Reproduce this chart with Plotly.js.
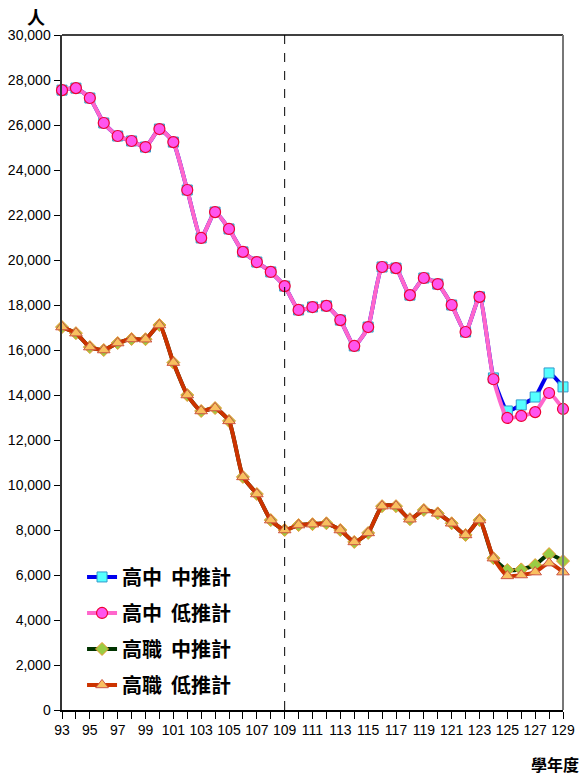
<!DOCTYPE html>
<html><head><meta charset="utf-8">
<script src="https://cdn.plot.ly/plotly-3.0.1.min.js"></script>
<style>body{margin:0;background:#fff}#c{width:587px;height:776px}</style>
</head><body><div id="c"></div>
<script>
const years = [93,94,95,96,97,98,99,100,101,102,103,104,105,106,107,108,109,110,111,112,113,114,115,116,117,118,119,120,121,122,123,124,125,126,127,128,129];
const shMid = [27550,27640,27200,26090,25510,25290,25020,25820,25240,23110,20980,22130,21380,20360,19910,19470,18840,17780,17910,17960,17330,16180,17020,19690,19640,18440,19200,18930,18000,16800,18360,14760,13290,13560,13910,14980,14360];
const shLow = [27550,27640,27200,26090,25510,25290,25020,25820,25240,23110,20980,22130,21380,20360,19910,19470,18840,17780,17910,17960,17330,16180,17020,19690,19640,18440,19200,18930,18000,16800,18360,14700,12980,13070,13240,14090,13380];
const vocMid = [17020,16750,16130,16000,16310,16490,16480,17110,15440,14000,13290,13420,12850,10360,9600,8440,8000,8220,8260,8300,8000,7470,7870,9060,9060,8480,8890,8740,8300,7780,8440,6750,6220,6250,6440,6930,6620];
const vocLow = [17020,16750,16130,16000,16310,16490,16480,17110,15440,14000,13290,13420,12850,10360,9600,8440,8000,8220,8260,8300,8000,7470,7870,9060,9060,8480,8890,8740,8300,7780,8440,6750,5960,6000,6130,6530,6130];
const names = ['高中  中推計','高中  低推計','高職  中推計','高職  低推計'];
const splitYear = 109;

const sm = 0.5;
const traces = [
  {x:years,y:shMid,name:names[0],legendgroup:'a',mode:'lines+markers',cliponaxis:false,
   line:{color:'#0000ee',width:4,shape:'spline',smoothing:sm},
   marker:{symbol:'square',size:10,color:'#55ffff',line:{color:'#3399cc',width:1}}},
  {x:years,y:shLow,name:names[1],legendgroup:'b',mode:'lines+markers',cliponaxis:false,
   line:{color:'#ff66cc',width:4,shape:'spline',smoothing:sm},
   marker:{symbol:'circle',size:11,color:'#ff55ee',line:{color:'#ee0033',width:1.2}}},
  {x:years,y:vocMid,name:names[2],legendgroup:'c',mode:'lines+markers',cliponaxis:false,
   line:{color:'#003300',width:4,shape:'spline',smoothing:sm},
   marker:{symbol:'diamond',size:10,color:'#99cc44',line:{color:'#ee9933',width:1}}},
  {x:years,y:vocLow,name:names[3],legendgroup:'d',mode:'lines+markers',cliponaxis:false,
   line:{color:'#cc3300',width:4,shape:'spline',smoothing:sm},
   marker:{symbol:'triangle-up',size:11,color:'#f8c060',line:{color:'#cc5544',width:1}}}
];

const tickFont = {family:'"Liberation Sans Narrow","Arial Narrow","Liberation Sans",sans-serif',size:14,color:'#000'};
const layout = {
  width:587,height:776,
  margin:{l:62,r:24,t:35,b:66},
  paper_bgcolor:'#fff',plot_bgcolor:'#fff',
  showlegend:true,
  legend:{x:0.04,y:0.226,xanchor:'left',yanchor:'top',bgcolor:'rgba(0,0,0,0)',traceorder:'grouped',
    font:{family:'"Noto Sans CJK TC","Noto Sans CJK SC",sans-serif',size:20,color:'#000',weight:'bold'},
    tracegroupgap:7,itemwidth:30},
  xaxis:{range:[93,129],tickmode:'linear',tick0:93,dtick:2,showgrid:false,zeroline:false,
    ticks:'outside',ticklen:7,tickcolor:'#000',showline:true,linecolor:'#000',linewidth:1.5,
    tickfont:tickFont,
    minor:{dtick:1,tick0:93,ticks:'outside',ticklen:7,tickcolor:'#000',showgrid:false}},
  yaxis:{range:[0,30000],tickmode:'linear',dtick:2000,tickformat:',d',showgrid:false,zeroline:false,
    ticks:'outside',ticklen:6,tickcolor:'#000',showline:true,linecolor:'#333',linewidth:2.5,
    tickfont:tickFont},
  shapes:[
    {type:'line',xref:'x',yref:'y',x0:splitYear,x1:splitYear,y0:0,y1:30000,line:{color:'#000',width:1,dash:'dash'}},
    {type:'line',xref:'paper',yref:'paper',x0:0,x1:1,y0:1,y1:1,line:{color:'#000',width:1.5}},
    {type:'line',xref:'paper',yref:'paper',x0:1,x1:1,y0:0,y1:1,line:{color:'#777',width:2}}
  ],
  annotations:[
    {text:'人',xref:'paper',yref:'paper',x:-0.052,y:1.028,xanchor:'center',yanchor:'middle',showarrow:false,
     font:{family:'"Noto Sans CJK TC",sans-serif',size:18,color:'#000',weight:'bold'}},
    {text:'學年度',xref:'paper',yref:'paper',x:1.036,y:-0.08,xanchor:'right',yanchor:'middle',showarrow:false,
     font:{family:'"Noto Sans CJK TC",sans-serif',size:16,color:'#000',weight:'bold'}}
  ]
};
Plotly.newPlot('c',traces,layout,{displayModeBar:false,staticPlot:true});
</script></body></html>
